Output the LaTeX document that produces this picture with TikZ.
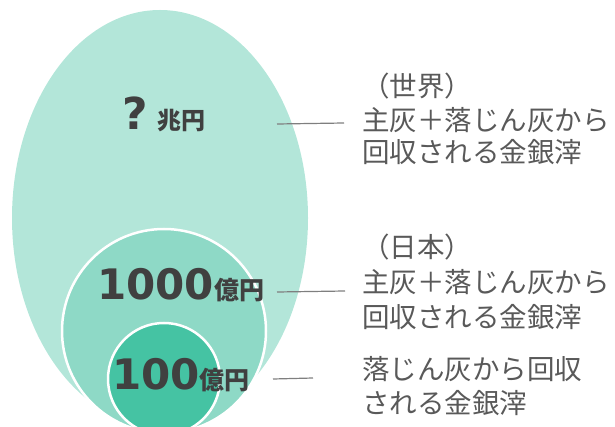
\documentclass[tikz,border=0pt]{standalone}
\usepackage{fontspec}
\newfontfamily\jp{Noto Sans CJK JP}
\newfontfamily\numf{DejaVu Sans}
\definecolor{bigc}{HTML}{B3E6D9}
\definecolor{midc}{HTML}{8ED9C6}
\definecolor{smallc}{HTML}{45C3A3}
\definecolor{numc}{HTML}{404040}
\definecolor{labc}{HTML}{595959}
\definecolor{linec}{HTML}{7F7F7F}
\tikzset{
  ring/.style={draw=white, line width=2.5pt},
  valtext/.style={anchor=base west, inner sep=0pt, text=numc},
  labtext/.style={anchor=base west, inner sep=0pt, text=labc, font=\jp\fontsize{27.5}{30}\selectfont},
  leader/.style={draw=linec, line width=1.2pt}
}
\begin{document}
\begin{tikzpicture}[x=1pt,y=-1pt]
\useasboundingbox (0,0) rectangle (615,427);
\begin{scope}
\clip (0,0) rectangle (615,427);
\fill[bigc] (160,218) ellipse [x radius=148pt, y radius=208pt];
\fill[midc] (164,331) circle [radius=102pt];
\draw[ring] (164,331) circle [radius=102pt];
\fill[smallc] (164,379) circle [radius=56pt];
\draw[ring] (164,379) circle [radius=56pt];
\end{scope}
% values
\node[valtext] (v1) at (122,130) {{\numf\bfseries\fontsize{44}{44}\selectfont ?}\hspace{10pt}{\jp\bfseries\fontsize{24}{24}\selectfont 兆円}};
\node[valtext] (v2) at (97,300) {{\numf\bfseries\fontsize{42}{42}\selectfont 1000}{\jp\bfseries\fontsize{25}{25}\selectfont 億円}};
\node[valtext] (v3) at (112,389) {{\numf\bfseries\fontsize{42}{42}\selectfont 100}{\jp\bfseries\fontsize{25}{25}\selectfont 億円}};
% labels
\node[labtext] (a1) at (362,97) {（世界）};
\node[labtext] (a2) at (362,131) {主灰＋落じん灰から};
\node[labtext] (a3) at (362,163) {回収される金銀滓};
\node[labtext] (b1) at (362,258) {（日本）};
\node[labtext] (b2) at (362,293) {主灰＋落じん灰から};
\node[labtext] (b3) at (362,327) {回収される金銀滓};
\node[labtext] (c1) at (362,379) {落じん灰から回収};
\node[labtext] (c2) at (362,413) {される金銀滓};
% leaders
\coordinate (p1) at (277,124);
\coordinate (q1) at (344,123);
\coordinate (p2) at (277,292);
\coordinate (q2) at (345,291);
\coordinate (p3) at (273,379);
\coordinate (q3) at (313,378);
\draw[leader] (p1) -- (q1);
\draw[leader] (p2) -- (q2);
\draw[leader] (p3) -- (q3);
\end{tikzpicture}
\end{document}
